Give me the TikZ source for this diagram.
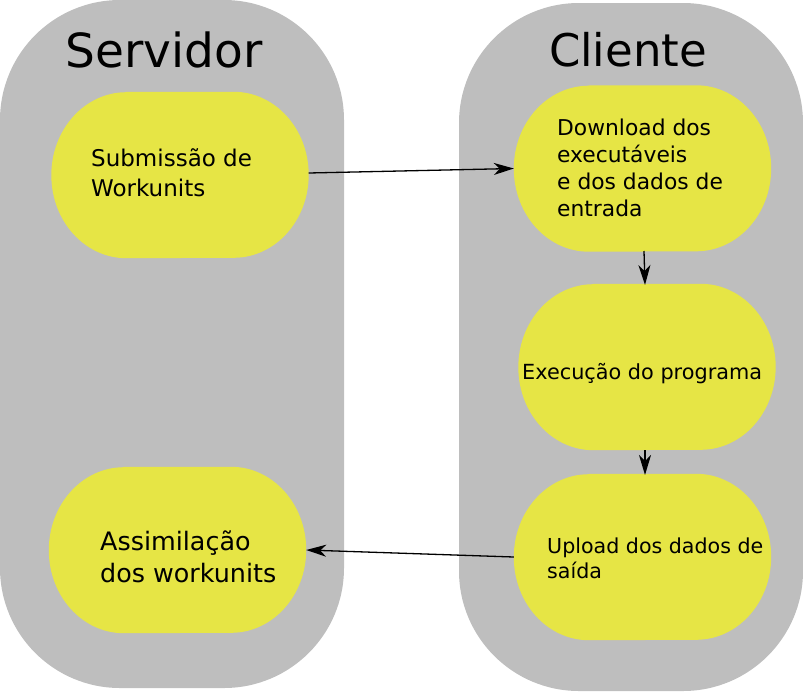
\documentclass[tikz,border=0pt]{standalone}
\usepackage{fontspec}
\setmainfont{DejaVu Sans}
\usetikzlibrary{arrows.meta}
\definecolor{greybg}{HTML}{BEBEBE}
\definecolor{yel}{HTML}{E6E545}
\newcommand{\blobfill}[1]{%
  \fill[yel] ([xshift=75pt]#1.north west) -- ([xshift=-75pt]#1.north east)
    arc[start angle=-90,end angle=90,x radius=75,y radius=83]
    -- ([xshift=75pt]#1.south west)
    arc[start angle=90,end angle=270,x radius=75,y radius=83] -- cycle;}
\begin{document}
\begin{tikzpicture}[x=1pt,y=-1pt,
  lane/.style={fill=greybg, draw=none, rounded corners=120pt},
  blob/.style={draw=none, minimum width=257pt, minimum height=166pt, inner sep=0pt},
  lbl/.style={anchor=west, align=left, inner sep=0pt},
  title/.style={inner sep=0pt},
  conn/.style={line width=1.3pt, -{Stealth[length=20pt,width=12pt,inset=6pt]}}]
\useasboundingbox (0,0) rectangle (803,691);
\fill[lane] (0,0) rectangle (344,688);
\fill[lane] (459,3) rectangle (803,691);
\node[title, font=\fontsize{47}{56}\selectfont] (srv) at (164,50) {Servidor};
\node[title, font=\fontsize{45}{54}\selectfont] (cli) at (628,50) {Cliente};
\node[blob] (sub) at (180,175) {};
\node[blob] (dl) at (642.5,168.5) {};
\node[blob] (ex) at (647,367) {};
\node[blob] (up) at (642.5,557) {};
\node[blob] (as) at (177.5,550) {};
\blobfill{sub}\blobfill{dl}\blobfill{ex}\blobfill{up}\blobfill{as}
\node[lbl, font=\fontsize{23}{30}\selectfont] (tsub) at (91,173) {Submissão de\\Workunits};
\node[lbl, font=\fontsize{21.8}{27}\selectfont] (tdl) at (557,167.5) {Download dos\\executáveis\\e dos dados de\\entrada};
\node[lbl, font=\fontsize{20.8}{25}\selectfont] (tex) at (522,374) {Execução do programa};
\node[lbl, font=\fontsize{20.6}{25}\selectfont] (tup) at (547,558) {Upload dos dados de\\saída};
\node[lbl, font=\fontsize{25.4}{32}\selectfont] (tas) at (100,557) {Assimilação\\dos workunits};
\coordinate (c1) at (644,251);
\coordinate (c2) at (645,285);
\coordinate (c3) at (645,450);
\coordinate (c4) at (645,475);
\draw[conn] (sub.east) ++(0,-2) -- (dl.west);
\draw[conn] (c1) -- (c2);
\draw[conn] (c3) -- (c4);
\draw[conn] (up.west) -- (as.east);
\end{tikzpicture}
\end{document}
